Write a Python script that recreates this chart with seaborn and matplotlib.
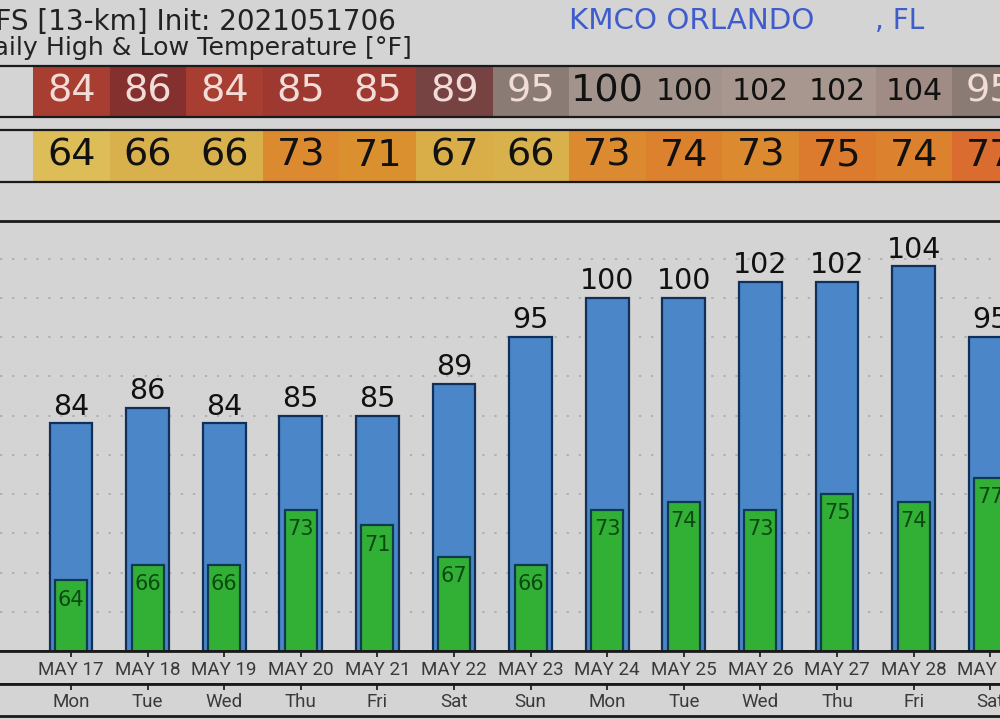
import numpy as np
import pandas as pd
import seaborn as sns
import matplotlib.pyplot as plt
from matplotlib.colors import ListedColormap, BoundaryNorm

dates = ['MAY 17', 'MAY 18', 'MAY 19', 'MAY 20', 'MAY 21', 'MAY 22', 'MAY 23',
         'MAY 24', 'MAY 25', 'MAY 26', 'MAY 27', 'MAY 28', 'MAY 29']
days = ['Mon', 'Tue', 'Wed', 'Thu', 'Fri', 'Sat', 'Sun', 'Mon', 'Tue', 'Wed', 'Thu', 'Fri', 'Sat']
high_temps = [84, 86, 84, 85, 85, 89, 95, 100, 100, 102, 102, 104, 95]
low_temps = [64, 66, 66, 73, 71, 67, 66, 73, 74, 73, 75, 74, 77]

high_colors = {84: '#a83d31', 85: '#9e3932', 86: '#83302f', 89: '#774342', 95: '#8a7b74',
               100: '#a3938d', 102: '#a8978f', 104: '#a08b85'}
low_colors = {64: '#dcbd57', 66: '#d9b14c', 67: '#d9ae48', 71: '#db9030', 73: '#dc8a2f',
              74: '#dc822e', 75: '#dc7a2e', 77: '#d96c2e'}

BG = '#d4d4d4'
W, H = 1000, 719
STEP = 76.6  # px per day

sns.set_theme(style='white', rc={'figure.facecolor': BG, 'axes.facecolor': BG})
plt.rcParams['font.family'] = ['DejaVu Sans']

fig = plt.figure(figsize=(W / 100, H / 100), dpi=100)


def px_axes(top, bottom):
    ax = fig.add_axes([0, 1 - bottom / H, 1, (bottom - top) / H])
    ax.set_facecolor(BG)
    return ax


def frame(ax, lw=1.6):
    for side in ['left', 'right']:
        ax.spines[side].set_visible(False)
    for side in ['top', 'bottom']:
        ax.spines[side].set_visible(True)
        ax.spines[side].set_color('#1a1a1a')
        ax.spines[side].set_linewidth(lw)


def strip(ax, temps, colors):
    keys = sorted(colors)
    cmap = ListedColormap([colors[k] for k in keys])
    bounds = [k - 0.5 for k in keys] + [keys[-1] + 0.5]
    norm = BoundaryNorm(bounds, cmap.N)
    sns.heatmap(np.array([temps]), ax=ax, cmap=cmap, norm=norm, cbar=False, annot=True, fmt='d',
                annot_kws={'size': 27.5}, xticklabels=False, yticklabels=False)
    ax.set_xlim(-33 / STEP, (W - 33) / STEP)
    frame(ax)


# colour strips
ax_high = px_axes(66, 117)
strip(ax_high, high_temps, high_colors)
for i, txt in enumerate(ax_high.texts):
    if high_temps[i] >= 100:
        txt.set_color('#111111')
        if i > 7:
            txt.set_fontsize(21.5)
    else:
        txt.set_color('#f2dcd8')

ax_low = px_axes(130, 182)
strip(ax_low, low_temps, low_colors)
for txt in ax_low.texts:
    txt.set_color('#111111')

# bars
df = pd.DataFrame({'date': dates, 'high': high_temps, 'low': low_temps})
ax = px_axes(221, 651)
ax.yaxis.grid(True, color='#b0b0b0', linestyle=(0, (1.2, 5)), linewidth=1.4)
ax.set_axisbelow(True)
sns.barplot(data=df, x='date', y='high', order=dates, color='#4a86c8', saturation=1, width=0.56,
            edgecolor='#10305a', linewidth=1.6, ax=ax)
sns.barplot(data=df, x='date', y='low', order=dates, color='#32b035', saturation=1, width=0.42,
            edgecolor='#0f3a50', linewidth=1.6, ax=ax)
ax.bar_label(ax.containers[0], fontsize=20.5, color='#111111', padding=2)
ax.bar_label(ax.containers[1], fontsize=15, color='#0a4a12', padding=-21)
ax.set_ylim(55, 55 + 430 / 7.85)
ax.set_yticks(np.arange(60, 110, 5))
ax.set_xlim(-71 / STEP, (W - 71) / STEP)
ax.set_xlabel('')
ax.set_ylabel('')
ax.tick_params(left=False, bottom=False, labelleft=False, labelbottom=False)
frame(ax, 2)

# date and weekday rows
ticks = np.arange(len(dates))
ax_date = px_axes(651, 684)
ax_day = px_axes(684, 716)
for a, labels in [(ax_date, dates), (ax_day, days)]:
    a.set_xlim(-71 / STEP, (W - 71) / STEP)
    a.set_yticks([])
    a.set_xticks(ticks, labels, fontsize=13.5, color='#3a3a3a', family='Roboto')
    a.tick_params(axis='x', direction='in', length=4.5, width=1.3, color='#222222', bottom=False,
                  top=True, labelbottom=True, pad=-16.5)
    frame(a, 2)

# titles
fig.text(396 / W, 1 - 30 / H, 'GFS [13-km] Init: 2021051706', ha='right', va='baseline',
         fontsize=20, color='#222222')
fig.text(412 / W, 1 - 55 / H, 'Daily High & Low Temperature [°F]', ha='right', va='baseline',
         fontsize=18.2, color='#222222')
fig.text(569 / W, 1 - 29 / H, 'KMCO ORLANDO', ha='left', va='baseline', fontsize=21.2, color='#3f5ccc')
fig.text(875 / W, 1 - 29 / H, ', FL', ha='left', va='baseline', fontsize=20, color='#3f5ccc')

fig.savefig('out.png', dpi=100, facecolor=BG)
